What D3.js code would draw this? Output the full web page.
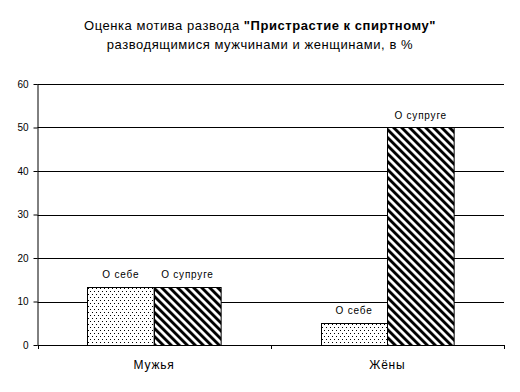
<!DOCTYPE html>
<html><head><meta charset="utf-8">
<script src="https://cdn.jsdelivr.net/npm/d3@7"></script>
<style>body{margin:0;background:#fff}svg{display:block}text{font-family:"Liberation Sans",Arial,sans-serif}</style>
</head><body>
<script>
const categories = ["Мужья", "Жёны"];
const seriesNames = ["О себе", "О супруге"];
const selfValues = [13.4, 5];
const spouseValues = [13.4, 50];
const yTicks = [0, 10, 20, 30, 40, 50, 60];

(function () {
const W = 520, H = 392;
const svg = d3.select("body").append("svg").attr("width", W).attr("height", H);
const defs = svg.append("defs");
const dots = defs.append("pattern").attr("id", "dots").attr("patternUnits", "userSpaceOnUse")
  .attr("width", 4).attr("height", 6);
dots.append("rect").attr("width", 4).attr("height", 6).attr("fill", "#fff");
dots.append("rect").attr("x", 0).attr("y", 0).attr("width", 1).attr("height", 1).attr("fill", "#000");
dots.append("rect").attr("x", 2).attr("y", 3).attr("width", 1).attr("height", 1).attr("fill", "#000");
const sp = 5.657;
const stripes = defs.append("pattern").attr("id", "stripes").attr("patternUnits", "userSpaceOnUse")
  .attr("width", sp).attr("height", sp).attr("patternTransform", "rotate(-45)");
stripes.append("rect").attr("width", sp).attr("height", sp).attr("fill", "#fff");
stripes.append("rect").attr("x", 0).attr("y", 0).attr("width", 2.9).attr("height", sp).attr("fill", "#000");

const pL = 37.5, pR = 504, pT = 84, pB = 345;
const x = d3.scaleBand().domain(categories).range([pL, pR]);
const y = d3.scaleLinear().domain([0, 60]).range([pB, pT]);
const xs = d3.scaleBand().domain(seriesNames).range([0, x.bandwidth()]).paddingInner(0).paddingOuter(0.75);

// gridlines
svg.append("g").selectAll("line").data(yTicks.filter(d => d > 0)).join("line")
  .attr("x1", pL).attr("x2", pR).attr("y1", d => Math.round(y(d)) + 0.5).attr("y2", d => Math.round(y(d)) + 0.5)
  .attr("stroke", "#000").attr("stroke-width", 1);

// bars
const data = categories.flatMap((c, i) => [
  {cat: c, s: seriesNames[0], v: selfValues[i], fill: "url(#dots)"},
  {cat: c, s: seriesNames[1], v: spouseValues[i], fill: "url(#stripes)"}
]);
const bars = svg.append("g");
bars.selectAll("rect").data(data).join("rect")
  .attr("x", d => Math.round(x(d.cat) + xs(d.s)) + 0.5)
  .attr("y", d => Math.round(y(d.v)) + 0.5)
  .attr("width", xs.bandwidth())
  .attr("height", d => Math.round(y(0)) - Math.round(y(d.v)))
  .attr("fill", d => d.fill).attr("stroke", "#000").attr("stroke-width", 1);

bars.selectAll("text").data(data).join("text")
  .attr("x", d => x(d.cat) + xs(d.s) + xs.bandwidth() / 2)
  .attr("y", d => y(d.v) - 9)
  .attr("text-anchor", "middle").attr("font-size", 10).attr("letter-spacing", 0.8).attr("fill", "#000")
  .text(d => d.s);

// y axis
const yAxis = d3.axisLeft(y).tickValues(yTicks).tickSize(4).tickPadding(5);
const gy = svg.append("g").attr("transform", `translate(${pL},0)`).call(yAxis);
gy.attr("font-family", null);
gy.select(".domain").attr("d", `M0.5,${pT}V${pB + 0.5}`);
gy.selectAll("text").attr("font-size", 10).attr("fill", "#000");

// x axis
const xAxis = d3.axisBottom(x).tickSize(0).tickPadding(15);
const gx = svg.append("g").attr("transform", `translate(0,${Math.round(pB) + 0.5})`).call(xAxis);
gx.attr("font-family", null);
gx.select(".domain").attr("d", `M${pL},0H${pR}`).attr("stroke", "#000");
gx.selectAll("text").attr("font-size", 12).attr("letter-spacing", 0.8).attr("fill", "#000");
// category boundary ticks
svg.append("g").selectAll("line").data([pL, x(categories[1]), pR]).join("line")
  .attr("x1", d => Math.round(d) + 0.5).attr("x2", d => Math.round(d) + 0.5)
  .attr("y1", pB).attr("y2", pB + 4).attr("stroke", "#000");

// title
const t1 = svg.append("text").attr("x", 260).attr("y", 30).attr("text-anchor", "middle")
  .attr("font-size", 13).attr("letter-spacing", 0.55);
t1.append("tspan").text("Оценка мотива развода ");
t1.append("tspan").attr("font-weight", "bold").text("\"Пристрастие к спиртному\"");
svg.append("text").attr("x", 260).attr("y", 49).attr("text-anchor", "middle")
  .attr("font-size", 13).attr("letter-spacing", 0.55)
  .text("разводящимися мужчинами и женщинами, в %");
})();
</script>
</body></html>
